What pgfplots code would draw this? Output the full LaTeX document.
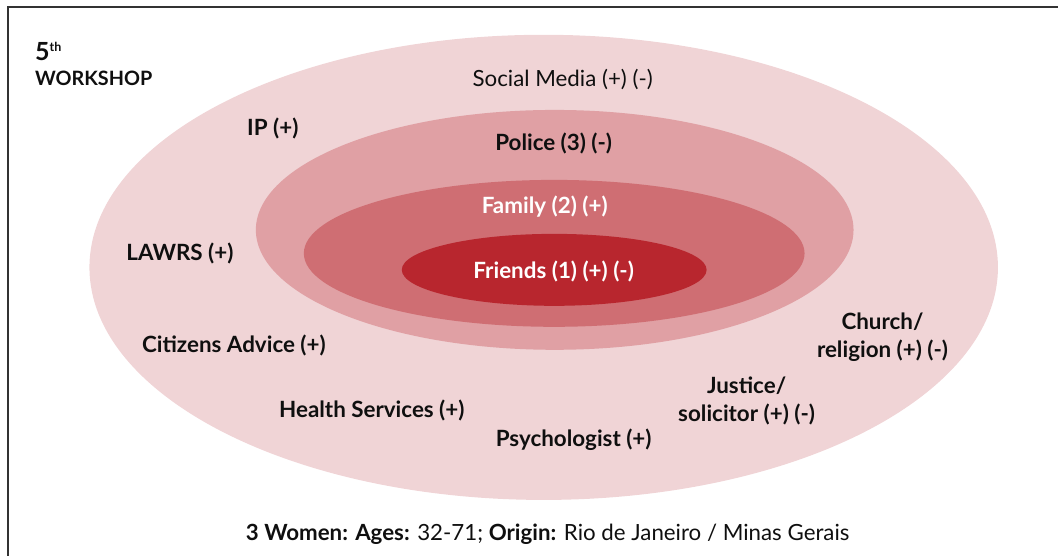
\documentclass[border=0pt]{standalone}
\usepackage{pgfplots}
\pgfplotsset{compat=1.18}
\usepackage{fontspec}
\setmainfont{Lato}
\definecolor{ringA}{RGB}{240,212,214}
\definecolor{ringB}{RGB}{224,160,164}
\definecolor{ringC}{RGB}{207,110,115}
\definecolor{ringD}{RGB}{184,38,46}
\definecolor{txt}{RGB}{15,15,15}
\tikzset{lab/.style={font=\fontsize{22.4}{28}\selectfont\bfseries, text=txt, inner sep=0pt},
         reg/.style={font=\fontsize{22.3}{28}\selectfont, text=txt, inner sep=0pt}}
\begin{document}
\begin{tikzpicture}
\begin{axis}[
  scale only axis, width=1059pt, height=556pt,
  xmin=0, xmax=1059, ymin=0, ymax=556, y dir=reverse,
  hide axis, clip=false]
\path (axis cs:0,0) rectangle (axis cs:1059,556);
% frame (left and top edges)
\draw[black!80, line width=1.2pt] (axis cs:8,556) -- (axis cs:8,7) -- (axis cs:1059,7);
% rings: centre x, centre y, x radius, y radius
\fill[ringA] (axis cs:544,267.5) ellipse [x radius=454.5, y radius=232.7];
\fill[ringB] (axis cs:555,230) ellipse [x radius=299, y radius=120];
\fill[ringC] (axis cs:554.5,253.5) ellipse [x radius=250.5, y radius=73.5];
\fill[ringD] (axis cs:554.5,270) ellipse [x radius=152.5, y radius=36];
\node[lab, anchor=base west] at (axis cs:35,61) {{\fontsize{25}{26}\selectfont 5}\raisebox{9.5pt}{\fontsize{12.5}{13}\selectfont th}};
\node[lab, anchor=base west, font=\fontsize{19.8}{21}\selectfont\bfseries] at (axis cs:35,86) {WORKSHOP};
\node[reg] at (axis cs:563,80) {Social Media (+) (-)};
\node[lab] at (axis cs:273,129) {IP (+)};
\node[lab] at (axis cs:554,144) {Police (3) (-)};
\node[lab, text=white] at (axis cs:545,207) {Family (2) (+)};
\node[lab, text=white] at (axis cs:554,272) {Friends (1) (+) (-)};
\node[lab] at (axis cs:180,254) {LAWRS (+)};
\node[lab] at (axis cs:234,346) {Citizens Advice (+)};
\node[lab, align=center] at (axis cs:883,337) {Church/\\religion (+) (-)};
\node[lab, align=center] at (axis cs:747,401) {Justice/\\solicitor (+) (-)};
\node[lab] at (axis cs:372,411) {Health Services (+)};
\node[lab] at (axis cs:574,440) {Psychologist (+)};
\node[reg] at (axis cs:548,535) {\textbf{3 Women: Ages:} 32-71; \textbf{Origin:} Rio de Janeiro / Minas Gerais};
\end{axis}
\end{tikzpicture}
\end{document}
